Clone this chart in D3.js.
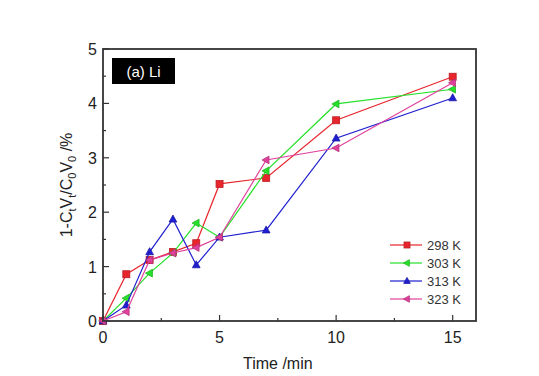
<!DOCTYPE html>
<html>
<head>
<meta charset="utf-8">
<script src="https://cdn.jsdelivr.net/npm/d3@7"></script>
<style>
  html, body { margin: 0; padding: 0; background: #fff; }
  svg { display: block; font-family: "Liberation Sans", Arial, sans-serif; }
</style>
</head>
<body>
<svg id="chart" width="539" height="376"></svg>
<script>
// Sampling times (min)
const times = [0, 1, 2, 3, 4, 5, 7, 10, 15];

// Extraction ratio 1-CtVt/C0V0 (%) at each temperature
const series298 = [0, 0.86, 1.12, 1.27, 1.43, 2.52, 2.63, 3.69, 4.49];
const series303 = [0, 0.42, 0.88, 1.25, 1.80, 1.54, 2.76, 3.99, 4.26];
const series313 = [0, 0.29, 1.27, 1.87, 1.03, 1.54, 1.67, 3.36, 4.10];
const series323 = [0, 0.17, 1.12, 1.25, 1.35, 1.54, 2.96, 3.18, 4.38];

const seriesNames = ["298 K", "303 K", "313 K", "323 K"];
const xTicks = [0, 5, 10, 15];
const yTicks = [0, 1, 2, 3, 4, 5];

const seriesList = [
  { name: seriesNames[0], values: series298, color: "#e8252c", marker: "square" },
  { name: seriesNames[1], values: series303, color: "#26e02a", marker: "left" },
  { name: seriesNames[2], values: series313, color: "#1f1fd0", marker: "up" },
  { name: seriesNames[3], values: series323, color: "#e0409c", marker: "left" }
];

const svg = d3.select("#chart");
const margin = { left: 103, right: 63, top: 49, bottom: 55 };
const W = 539, H = 376;
const iw = W - margin.left - margin.right;
const ih = H - margin.top - margin.bottom;

const x = d3.scaleLinear().domain([0, 16]).range([margin.left, margin.left + iw]);
const y = d3.scaleLinear().domain([0, 5]).range([margin.top + ih, margin.top]);

const axisColor = "#333";

// Inward major / minor ticks on bottom and left
const g = svg.append("g");
const minorX = d3.range(0, 16.01, 2.5);
const minorY = d3.range(0, 5.01, 0.5);
g.selectAll(".xminor").data(minorX).enter().append("line")
  .attr("x1", d => x(d)).attr("x2", d => x(d))
  .attr("y1", y(0)).attr("y2", d => y(0) - (d % 5 === 0 ? 6 : 3))
  .attr("stroke", axisColor).attr("stroke-width", 1.2);
g.selectAll(".yminor").data(minorY).enter().append("line")
  .attr("y1", d => y(d)).attr("y2", d => y(d))
  .attr("x1", x(0)).attr("x2", d => x(0) + (d % 1 === 0 ? 6 : 3))
  .attr("stroke", axisColor).attr("stroke-width", 1.2);

// Tick labels
g.selectAll(".xl").data(xTicks).enter().append("text")
  .attr("x", d => x(d)).attr("y", y(0) + 22)
  .attr("text-anchor", "middle").attr("font-size", 16).attr("fill", "#222")
  .text(d => d);
g.selectAll(".yl").data(yTicks).enter().append("text")
  .attr("x", x(0) - 6).attr("y", d => y(d) + 6)
  .attr("text-anchor", "end").attr("font-size", 16).attr("fill", "#222")
  .text(d => d);

// Data lines and markers
const line = d3.line().x((d, i) => x(times[i])).y(d => y(d));

function drawMarker(sel, type, color, size) {
  const s = size;
  if (type === "square") {
    sel.append("rect").attr("x", -s).attr("y", -s).attr("width", 2 * s).attr("height", 2 * s)
      .attr("fill", color).attr("stroke", d3.color(color).darker(0.6)).attr("stroke-width", 0.8);
  } else if (type === "up") {
    sel.append("path").attr("d", `M0,${-s * 1.2}L${s * 1.1},${s * 0.8}L${-s * 1.1},${s * 0.8}Z`)
      .attr("fill", color).attr("stroke", d3.color(color).darker(0.6)).attr("stroke-width", 0.8);
  } else {
    sel.append("path").attr("d", `M${-s * 1.2},0L${s * 0.8},${-s * 1.1}L${s * 0.8},${s * 1.1}Z`)
      .attr("fill", color).attr("stroke", d3.color(color).darker(0.6)).attr("stroke-width", 0.8);
  }
}

seriesList.forEach(sr => {
  svg.append("path").datum(sr.values)
    .attr("d", line).attr("fill", "none")
    .attr("stroke", sr.color).attr("stroke-width", 1.2);
  sr.values.forEach((v, i) => {
    const m = svg.append("g").attr("transform", `translate(${x(times[i])},${y(v)})`);
    drawMarker(m, sr.marker, sr.color, 3.5);
  });
});

// Frame
svg.append("rect")
  .attr("x", margin.left).attr("y", margin.top).attr("width", iw).attr("height", ih)
  .attr("fill", "none").attr("stroke", axisColor).attr("stroke-width", 1.8);

// Legend
const leg = svg.append("g").attr("transform", "translate(390,245)");
seriesList.forEach((sr, i) => {
  const row = leg.append("g").attr("transform", `translate(0,${i * 18})`);
  row.append("line").attr("x1", 0).attr("x2", 32).attr("y1", 0).attr("y2", 0)
    .attr("stroke", sr.color).attr("stroke-width", 1.2);
  const m = row.append("g").attr("transform", "translate(17,0)");
  drawMarker(m, sr.marker, sr.color, 3);
  row.append("text").attr("x", 37).attr("y", 5).attr("font-size", 13).attr("fill", "#333")
    .text(sr.name);
});

// Panel label
svg.append("rect").attr("x", 112).attr("y", 58).attr("width", 63).attr("height", 26).attr("fill", "#000");
svg.append("text").attr("x", 143.5).attr("y", 77).attr("text-anchor", "middle")
  .attr("font-size", 15).attr("fill", "#fff").text("(a) Li");

// Axis titles
svg.append("text").attr("x", x(7.5)).attr("y", 369).attr("text-anchor", "middle")
  .attr("font-size", 16).attr("fill", "#222").text("Time /min");

const yt = svg.append("text")
  .attr("transform", `translate(72,${y(2.5)}) rotate(-90)`)
  .attr("text-anchor", "middle").attr("font-size", 16).attr("fill", "#222");
yt.append("tspan").text("1-C");
yt.append("tspan").attr("font-size", 11).attr("dy", 4).text("t");
yt.append("tspan").attr("dy", -4).text("V");
yt.append("tspan").attr("font-size", 11).attr("dy", 4).text("t");
yt.append("tspan").attr("dy", -4).text("/C");
yt.append("tspan").attr("font-size", 11).attr("dy", 4).text("0");
yt.append("tspan").attr("dy", -4).text("V");
yt.append("tspan").attr("font-size", 11).attr("dy", 4).text("0");
yt.append("tspan").attr("dy", -4).text(" /%");
</script>
</body>
</html>
